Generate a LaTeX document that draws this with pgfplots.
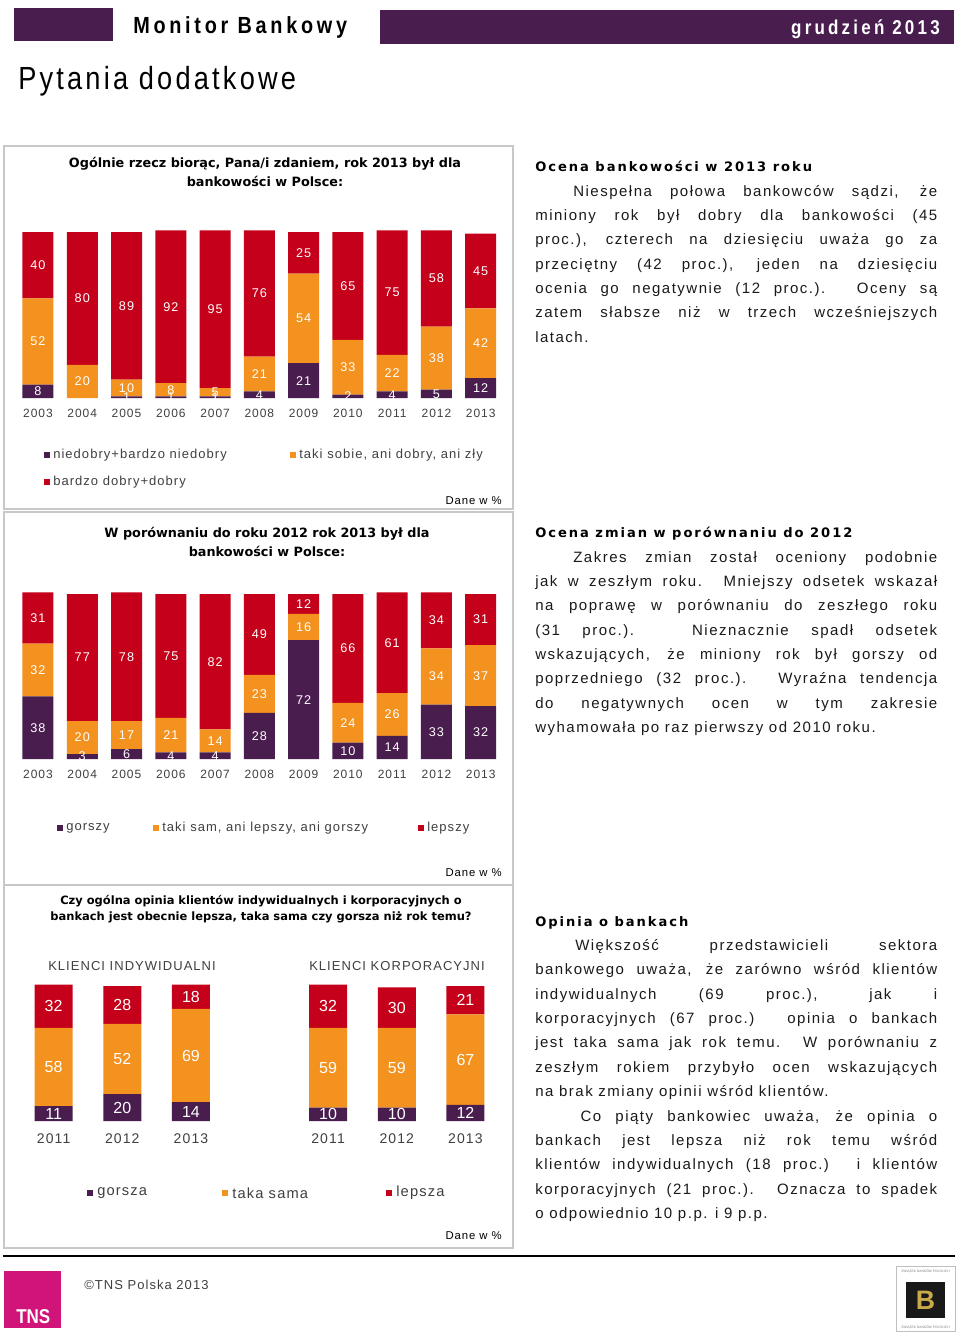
\documentclass[border=0pt]{standalone}
\usepackage{pgfplots}
\pgfplotsset{compat=1.18}
\usepackage{pgfplotstable}
\usepackage{fontspec}
\setmainfont{Liberation Sans}
\newfontfamily\bodyfont{Liberation Sans}[LetterSpace=10]
\newfontfamily\lsfont{Liberation Sans}[LetterSpace=8]
\newfontfamily\vsfont{DejaVu Sans}[LetterSpace=15]
\newfontfamily\vfont{DejaVu Sans}
\newfontfamily\narrowfont{Liberation Sans}[FakeStretch=0.85,LetterSpace=10]
\newfontfamily\hdrfont{Liberation Sans}[FakeStretch=0.85,LetterSpace=16]
\newfontfamily\condfont{Liberation Sans}[FakeStretch=0.85]

\definecolor{cpurple}{HTML}{4A1D4F}
\definecolor{corange}{HTML}{F4921F}
\definecolor{cred}{HTML}{C5001A}
\definecolor{cgray}{HTML}{404040}
\definecolor{cborder}{HTML}{C8C8C8}
\definecolor{cpink}{HTML}{D0147A}
\definecolor{ctext}{HTML}{1A1A1A}
\definecolor{cgold}{HTML}{C9A94A}

\pgfplotstableread{
x a b c
0 8 52 40
1 0 20 80
2 1 10 89
3 1 8 92
4 1 5 95
5 4 21 76
6 21 54 25
7 2 33 65
8 4 22 75
9 5 38 58
10 12 42 45
}\dataA
\pgfplotstableread{
x a b c
0 38 32 31
1 3 20 77
2 6 17 78
3 4 21 75
4 4 14 82
5 28 23 49
6 72 16 12
7 10 24 66
8 14 26 61
9 33 34 34
10 32 37 31
}\dataB
\pgfplotstableread{
x a b c
0 11 58 32
1 20 52 28
2 14 69 18
}\dataC
\pgfplotstableread{
x a b c
0 10 59 32
1 10 59 30
2 12 67 21
}\dataD

\pgfplotsset{
  stackbars/.style={
    ybar stacked, scale only axis, ymin=0, ymax=101, enlargelimits=false,
    axis line style={draw=none}, major tick length=0pt, ytick=\empty, xtick=data,
    point meta=explicit,
    /pgf/number format/assume math mode=true,
    nodes near coords={\pgfmathfloatifflags{\pgfplotspointmeta}{0}{}{\pgfmathprintnumber{\pgfplotspointmeta}}},
    every node near coord/.append style={anchor=center, text=white},
  },
}

\newcommand\jl[3]{\node[anchor=base west,inner sep=0,text=ctext,font=\bodyfont\fontsize{11.25}{13}\selectfont] at (535,-#1) {\makebox[301.5pt][s]{\hspace*{#2}#3}};}
\newcommand\lastl[2]{\node[anchor=base west,inner sep=0,text=ctext,font=\bodyfont\fontsize{11.25}{13}\selectfont] at (535,-#1) {#2};}
\newcommand\legsq[3]{\fill[#3] (#1-3,-#2-3) rectangle (#1+3,-#2+3);}

\begin{document}
\begin{tikzpicture}[x=0.75pt,y=0.75pt]
\fill[white] (0,0) rectangle (960,-1336);
\coordinate (A1) at (15.85,-398);
\coordinate (A2) at (15.85,-759);
\coordinate (A3) at (19.3,-1121);
\coordinate (A4) at (293.75,-1121);

% header
\fill[cpurple] (14,-8) rectangle (113,-41);
\fill[cpurple] (380,-10) rectangle (954,-44);
\node[anchor=west,inner sep=0,font=\hdrfont\bfseries\fontsize{17.5}{19}\selectfont] at (133,-27) {Monitor Bankowy};
\node[anchor=east,inner sep=0,text=white,font=\hdrfont\bfseries\fontsize{15}{17}\selectfont] at (940,-29) {grudzień 2013};
\node[anchor=west,inner sep=0,font=\narrowfont\fontsize{24}{26}\selectfont] at (18,-81) {Pytania dodatkowe};

% panels
\draw[cborder,line width=1.2pt] (4,-146) rectangle (513,-509);
\draw[cborder,line width=1.2pt] (4,-512) rectangle (513,-885);
\draw[cborder,line width=1.2pt] (4,-885) rectangle (513,-1248);

% chart 1
\node[align=center,inner sep=0,font=\vfont\bfseries\fontsize{9.6}{14}\selectfont] at (265,-172) {Ogólnie rzecz biorąc, Pana/i zdaniem, rok 2013 był dla\\bankowości w Polsce:};
\begin{axis}[stackbars, at={(A1)}, anchor=south west,
  width=365.25pt, height=125.745pt, bar width=23.25pt, xmin=-0.5, xmax=10.5,
  xticklabels={2003,2004,2005,2006,2007,2008,2009,2010,2011,2012,2013},
  xticklabel style={text=cgray,font=\lsfont\fontsize{9}{10}\selectfont,yshift=-5pt},
  nodes near coords style={font=\lsfont\fontsize{9.5}{11}\selectfont}]
\addplot[fill=cpurple,draw=none] table[x=x,y=a,meta=a]{\dataA};
\addplot[fill=corange,draw=none] table[x=x,y=b,meta=b]{\dataA};
\addplot[fill=cred,draw=none] table[x=x,y=c,meta=c]{\dataA};
\end{axis}
\legsq{47}{455}{cpurple}\node[anchor=west,inner sep=0,text=cgray,font=\lsfont\fontsize{9.75}{11}\selectfont] at (53,-455) {niedobry+bardzo niedobry};
\legsq{293}{455}{corange}\node[anchor=west,inner sep=0,text=cgray,font=\lsfont\fontsize{9.75}{11}\selectfont] at (299,-455) {taki sobie, ani dobry, ani zły};
\legsq{47}{482}{cred}\node[anchor=west,inner sep=0,text=cgray,font=\lsfont\fontsize{9.75}{11}\selectfont] at (53,-482) {bardzo dobry+dobry};
\node[anchor=east,inner sep=0,font=\lsfont\fontsize{8.5}{10}\selectfont] at (502,-501) {Dane w \%};

% chart 2
\node[align=center,inner sep=0,font=\vfont\bfseries\fontsize{9.6}{14}\selectfont] at (267,-542) {W porównaniu do roku 2012 rok 2013 był dla\\bankowości w Polsce:};
\begin{axis}[stackbars, at={(A2)}, anchor=south west,
  width=365.25pt, height=124.99pt, bar width=23.25pt, xmin=-0.5, xmax=10.5,
  xticklabels={2003,2004,2005,2006,2007,2008,2009,2010,2011,2012,2013},
  xticklabel style={text=cgray,font=\lsfont\fontsize{9}{10}\selectfont,yshift=-5pt},
  nodes near coords style={font=\lsfont\fontsize{9.5}{11}\selectfont}]
\addplot[fill=cpurple,draw=none] table[x=x,y=a,meta=a]{\dataB};
\addplot[fill=corange,draw=none] table[x=x,y=b,meta=b]{\dataB};
\addplot[fill=cred,draw=none] table[x=x,y=c,meta=c]{\dataB};
\end{axis}
\legsq{60}{828}{cpurple}\node[anchor=west,inner sep=0,text=cgray,font=\lsfont\fontsize{9.75}{11}\selectfont] at (66,-828) {gorszy};
\legsq{156}{828}{corange}\node[anchor=west,inner sep=0,text=cgray,font=\lsfont\fontsize{9.75}{11}\selectfont] at (162,-828) {taki sam, ani lepszy, ani gorszy};
\legsq{421}{828}{cred}\node[anchor=west,inner sep=0,text=cgray,font=\lsfont\fontsize{9.75}{11}\selectfont] at (427,-828) {lepszy};
\node[anchor=east,inner sep=0,font=\lsfont\fontsize{8.5}{10}\selectfont] at (502,-873) {Dane w \%};

% chart 3
\node[align=center,inner sep=0,font=\vfont\bfseries\fontsize{8.6}{11.5}\selectfont] at (261,-909) {Czy ogólna opinia klientów indywidualnych i korporacyjnych o\\bankach jest obecnie lepsza, taka sama czy gorsza niż rok temu?};
\node[anchor=west,inner sep=0,text=cgray,font=\lsfont\fontsize{9.75}{11}\selectfont] at (48,-966) {KLIENCI INDYWIDUALNI};
\node[anchor=west,inner sep=0,text=cgray,font=\lsfont\fontsize{9.75}{11}\selectfont] at (309,-966) {KLIENCI KORPORACYJNI};
\begin{axis}[stackbars, at={(A3)}, anchor=south west,
  width=154.5pt, height=102.26pt, bar width=28.5pt, xmin=-0.5, xmax=2.5,
  xticklabels={2011,2012,2013},
  xticklabel style={text=cgray,font=\lsfont\fontsize{10.5}{12}\selectfont,yshift=-6pt},
  nodes near coords style={font=\fontsize{12}{13}\selectfont}]
\addplot[fill=cpurple,draw=none] table[x=x,y=a,meta=a]{\dataC};
\addplot[fill=corange,draw=none] table[x=x,y=b,meta=b]{\dataC};
\addplot[fill=cred,draw=none] table[x=x,y=c,meta=c]{\dataC};
\end{axis}
\begin{axis}[stackbars, at={(A4)}, anchor=south west,
  width=154.5pt, height=102.26pt, bar width=28.5pt, xmin=-0.5, xmax=2.5,
  xticklabels={2011,2012,2013},
  xticklabel style={text=cgray,font=\lsfont\fontsize{10.5}{12}\selectfont,yshift=-6pt},
  nodes near coords style={font=\fontsize{12}{13}\selectfont}]
\addplot[fill=cpurple,draw=none] table[x=x,y=a,meta=a]{\dataD};
\addplot[fill=corange,draw=none] table[x=x,y=b,meta=b]{\dataD};
\addplot[fill=cred,draw=none] table[x=x,y=c,meta=c]{\dataD};
\end{axis}
\legsq{90}{1193}{cpurple}\node[anchor=west,inner sep=0,text=cgray,font=\lsfont\fontsize{11}{12}\selectfont] at (97,-1193) {gorsza};
\legsq{225}{1193}{corange}\node[anchor=west,inner sep=0,text=cgray,font=\lsfont\fontsize{11}{12}\selectfont] at (232,-1193) {taka sama};
\legsq{389}{1193}{cred}\node[anchor=west,inner sep=0,text=cgray,font=\lsfont\fontsize{11}{12}\selectfont] at (396,-1193) {lepsza};
\node[anchor=east,inner sep=0,font=\lsfont\fontsize{8.5}{10}\selectfont] at (502,-1236) {Dane w \%};

% right column
\node[anchor=base west,inner sep=0,font=\vsfont\bfseries\fontsize{9.8}{12}\selectfont] at (535,-171) {Ocena bankowości w 2013 roku};
\jl{196}{28.5pt}{Niespełna połowa bankowców sądzi, że}
\jl{220}{0pt}{miniony rok był dobry dla bankowości (45}
\jl{244.5}{0pt}{proc.), czterech na dziesięciu uważa go za}
\jl{269}{0pt}{przeciętny (42 proc.), jeden na dziesięciu}
\jl{293}{0pt}{ocenia go negatywnie (12 proc.). Oceny są}
\jl{317.5}{0pt}{zatem słabsze niż w trzech wcześniejszych}
\lastl{342}{latach.}

\node[anchor=base west,inner sep=0,font=\vsfont\bfseries\fontsize{9.8}{12}\selectfont] at (535,-537) {Ocena zmian w porównaniu do 2012};
\jl{562}{28.5pt}{Zakres zmian został oceniony podobnie}
\jl{586}{0pt}{jak w zeszłym roku. Mniejszy odsetek wskazał}
\jl{610.5}{0pt}{na poprawę w porównaniu do zeszłego roku}
\jl{635}{0pt}{(31 proc.). Nieznacznie spadł odsetek}
\jl{659}{0pt}{wskazujących, że miniony rok był gorszy od}
\jl{683.5}{0pt}{poprzedniego (32 proc.). Wyraźna tendencja}
\jl{708}{0pt}{do negatywnych ocen w tym zakresie}
\lastl{732}{wyhamowała po raz pierwszy od 2010 roku.}

\node[anchor=base west,inner sep=0,font=\vsfont\bfseries\fontsize{9.8}{12}\selectfont] at (535,-926) {Opinia o bankach};
\jl{950}{30pt}{Większość przedstawicieli sektora}
\jl{974.5}{0pt}{bankowego uważa, że zarówno wśród klientów}
\jl{999}{0pt}{indywidualnych (69 proc.), jak i}
\jl{1023}{0pt}{korporacyjnych (67 proc.) opinia o bankach}
\jl{1047.5}{0pt}{jest taka sama jak rok temu. W porównaniu z}
\jl{1072}{0pt}{zeszłym rokiem przybyło ocen wskazujących}
\lastl{1096.5}{na brak zmiany opinii wśród klientów.}
\jl{1121}{34pt}{Co piąty bankowiec uważa, że opinia o}
\jl{1145}{0pt}{bankach jest lepsza niż rok temu wśród}
\jl{1169.5}{0pt}{klientów indywidualnych (18 proc.) i klientów}
\jl{1194}{0pt}{korporacyjnych (21 proc.). Oznacza to spadek}
\lastl{1218.5}{o odpowiednio 10 p.p. i 9 p.p.}

% footer
\draw[black,line width=1.5pt] (3,-1256) -- (955,-1256);
\fill[cpink] (4,-1271) rectangle (61,-1328);
\node[anchor=south west,inner sep=0,text=white,font=\condfont\bfseries\fontsize{15}{15}\selectfont] at (16,-1324) {TNS};
\node[anchor=west,inner sep=0,text=cgray,font=\lsfont\fontsize{9.75}{11}\selectfont] at (84,-1285) {©TNS Polska 2013};
\draw[gray!50,line width=0.3pt] (896,-1266) rectangle (955,-1331);
\fill[black!90] (906,-1282) rectangle (945,-1318);
\node[text=cgold,inner sep=0,font=\bfseries\fontsize{20}{20}\selectfont] at (925.5,-1300) {B};
\node[inner sep=0,text=gray,font=\fontsize{2.5}{3}\selectfont] at (925.5,-1271) {ZWIĄZEK BANKÓW POLSKICH};
\node[inner sep=0,text=gray,font=\fontsize{2.5}{3}\selectfont] at (925.5,-1327) {ZWIĄZEK BANKÓW POLSKICH};
\end{tikzpicture}
\end{document}
